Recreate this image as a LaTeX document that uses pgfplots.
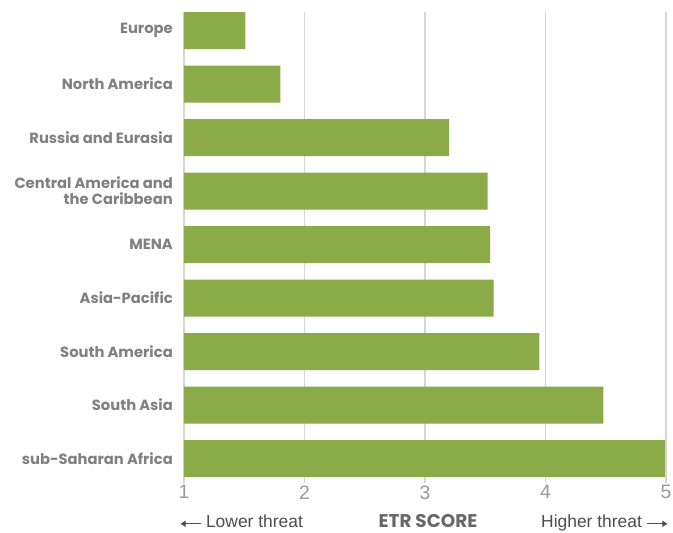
\documentclass[border=0pt]{standalone}
\usepackage{pgfplots}
\pgfplotsset{compat=1.18}
\usepackage{fontspec}
\setmainfont{Liberation Sans}
\newfontfamily\labfont{Poppins}
\definecolor{bargreen}{HTML}{8AAB48}
\definecolor{labgray}{HTML}{808080}
\definecolor{gridgray}{HTML}{D6D6D6}
\definecolor{tickgray}{HTML}{9A9A9A}
\definecolor{botgray}{HTML}{4D4D4D}
\usetikzlibrary{arrows.meta}
\newcommand{\larr}{\tikz[baseline=-0.35ex]\draw[botgray, line width=1bp, -{Triangle[length=5bp,width=6bp]}] (20bp,0) -- (0,0);}
\newcommand{\rarr}{\tikz[baseline=-0.35ex]\draw[botgray, line width=1bp, -{Triangle[length=5bp,width=6bp]}] (0,0) -- (20bp,0);}
\begin{document}
\begin{tikzpicture}
\begin{axis}[name=ax, anchor=south west, at={(0,0)},
  scale only axis, width=482bp, height=465bp,
  xbar, bar width=37bp,
  xmin=1, xmax=5, ymin=-0.346, ymax=8.346, y dir=reverse,
  ytick={0,...,8},
  yticklabels={Europe,North America,Russia and Eurasia,{Central America and\\the Caribbean},MENA,Asia-Pacific,South America,South Asia,sub-Saharan Africa},
  yticklabel style={font=\labfont\fontsize{14.8}{16}\selectfont\bfseries, text=labgray, align=right, inner sep=0pt, xshift=-5bp},
  ytick style={draw=none},
  xtick={1,2,3,4,5},
  xtick style={draw=gridgray, line width=1.2bp},
  major tick length=6bp, tick align=outside,
  xticklabel style={font=\fontsize{19.5}{19.5}\selectfont, text=tickgray, yshift=1bp},
  /pgf/number format/assume math mode=true,
  xmajorgrids, grid style={draw=gridgray, line width=1.2bp},
  axis x line*=bottom, axis y line*=left,
  x axis line style={draw=none, -},
  y axis line style={draw=gridgray, line width=1.2bp, -},
  clip=false,
]
\addplot[fill=bargreen, draw=none] coordinates {
(1.51,0) (1.80,1) (3.20,2) (3.52,3) (3.54,4) (3.57,5) (3.95,6) (4.48,7) (4.99,8)};
\end{axis}
\node[font=\labfont\fontsize{18.5}{18.5}\selectfont\bfseries, text=botgray!85, anchor=base] at ([xshift=244bp, yshift=-50bp]ax.south west) {ETR SCORE};
\node[font=\fontsize{17.5}{17.5}\selectfont, text=botgray, anchor=base west, inner sep=0pt] at ([xshift=-4bp, yshift=-50bp]ax.south west) {\larr\ Lower threat};
\node[font=\fontsize{17.5}{17.5}\selectfont, text=botgray, anchor=base east, inner sep=0pt] at ([xshift=2bp, yshift=-50bp]ax.south east) {Higher threat \rarr};
\pgfresetboundingbox
\path ([shift={(-184bp,-55bp)}]ax.south west) rectangle ([shift={(7bp,12bp)}]ax.north east);
\end{tikzpicture}
\end{document}
